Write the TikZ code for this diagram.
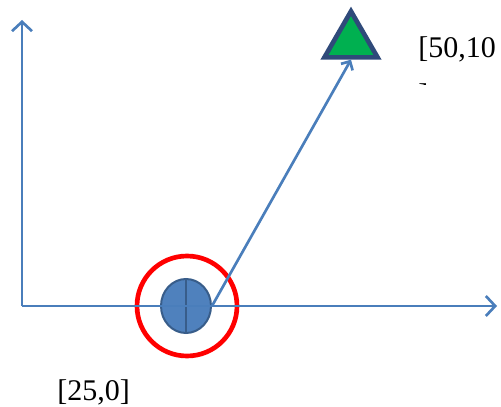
\documentclass[tikz,border=0pt]{standalone}
\usepackage{fontspec}
\setmainfont{Liberation Serif}
\usepackage{xcolor}
\definecolor{axisblue}{HTML}{4A7EBB}
\definecolor{objblue}{HTML}{4F81BD}
\definecolor{objedge}{HTML}{385D8A}
\definecolor{trigreen}{HTML}{00B050}
\definecolor{triedge}{HTML}{2F4A7A}
\usetikzlibrary{shapes.geometric, arrows.meta, positioning, calc}
\tikzset{
  axis/.style={line width=2pt, color=axisblue,
    -{Straight Barb[length=7pt, width=15pt, line width=2pt]}},
  heading/.style={line width=2pt, color=axisblue,
    -{Straight Barb[length=5pt, width=10pt, line width=2pt]}},
  ring/.style={
    circle, draw=red, line width=3.5pt,
    minimum size=75pt, inner sep=0pt
  },
  body/.style={
    ellipse, draw=objedge, fill=objblue, line width=1.5pt,
    minimum width=37.5pt, minimum height=40.5pt, inner sep=0pt
  },
  target/.style={
    regular polygon, regular polygon sides=3,
    draw=triedge, fill=trigreen, line width=3.5pt,
    minimum size=46pt, inner sep=0pt
  },
  coord/.style={font=\fontsize{22.5}{35}\selectfont, inner sep=0pt},
}

\begin{document}
\begin{tikzpicture}[x=0.75pt, y=-0.75pt]
  \useasboundingbox (0,0) rectangle (501,407);

  \coordinate (origin) at (22,306);
  \coordinate (xend)   at (497,306);
  \coordinate (yend)   at (22,20);

  \node (obj)  [body]   at (186,306) {};
  \node (zone) [ring]   at (187,306) {};
  \node (goal) [target] at (351,42)  {};

  % local cross of the object
  \draw [objedge, line width=1.5pt] (obj.north) -- (obj.south);

  \draw [axis] (origin) -- (xend);
  \draw [axis] (origin) -- (yend);
  \draw [heading] (obj.east) -- (goal.south);

  \node (start) [coord, anchor=base west] at (57,400) {[25,0]};
  \node (end)   [coord, anchor=base west] at (418,57) {[50,10};
  \begin{scope}
    \clip (410,60) rectangle (501,84);
    \node (endwrap) [coord, anchor=base west] at (418,104) {]};
  \end{scope}
\end{tikzpicture}
\end{document}
